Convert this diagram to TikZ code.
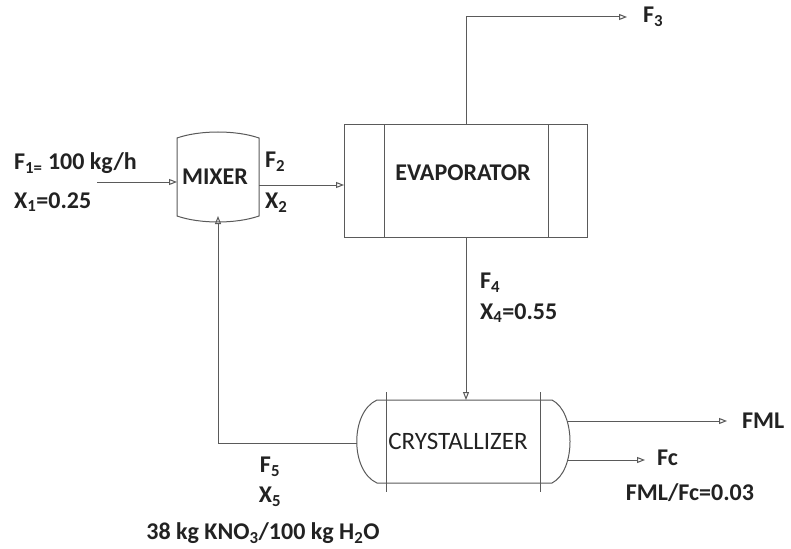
\documentclass[tikz,border=0pt]{standalone}
\usepackage{fontspec}
\setmainfont{Carlito}
\usetikzlibrary{arrows.meta}
\definecolor{ln}{HTML}{5A5A5A}
\definecolor{tx}{HTML}{222222}
\begin{document}
\begin{tikzpicture}[x=1pt,y=-1pt,
  flow/.style={draw=ln,line width=1pt},
  arr/.style={flow,-{Triangle[open,length=8pt,width=6pt]}},
  lbl/.style={text=tx,font=\fontsize{24}{28}\selectfont\bfseries,inner sep=0pt},
  lblw/.style={lbl,anchor=west},
  unit/.style={inner sep=0pt,outer sep=0pt}]
\useasboundingbox (0,0) rectangle (791,548);
\fill[white] (0,0) rectangle (791,548);

% Mixer
\node[unit,minimum width=82pt,minimum height=78pt] (mixer) at (218,177) {};
\draw[flow] (mixer.north west) .. controls (200,130) and (236,130) .. (mixer.north east)
  -- (mixer.south east) .. controls (236,224) and (200,224) .. (mixer.south west) -- cycle;
\node[lbl] (mixtxt) at (215,177) {MIXER};

% Evaporator
\node[unit,draw=ln,line width=1pt,minimum width=243pt,minimum height=112pt] (evap) at (465.5,181) {};
\draw[flow] (384,125) -- (384,237) (548,125) -- (548,237);
\node[lbl] (evtxt) at (463,173) {EVAPORATOR};

% Crystallizer
\node[unit,minimum width=175pt,minimum height=83pt] (cryst) at (464.5,441.5) {};
\draw[flow] (cryst.north west) -- (cryst.north east)
  .. controls (576,412) and (576,471) .. (cryst.south east)
  -- (cryst.south west) .. controls (350,471) and (350,412) .. (cryst.north west) -- cycle;
\draw[flow] (386,392) -- (386,492) (540,392) -- (540,492);
\node[lbl,font=\fontsize{25}{28}\selectfont] (crtxt) at (458,441) {CRYSTALLIZER};

% Coordinates
\coordinate (f1s) at (97,182);
\coordinate (f3top) at (466,17);
\coordinate (f3e) at (627,17);
\coordinate (f5c) at (218,443);
\coordinate (fmle) at (727,421);
\coordinate (fce) at (645,460);

% Streams
\draw[arr] (f1s) -- (mixer.west |- f1s);
\draw[arr] (mixer.east |- 0,185) -- (evap.west |- 0,185);
\draw[arr] (evap.north -| 466,0) -- (f3top) -- (f3e);
\draw[arr] (evap.south -| 466,0) -- (cryst.north -| 466,0);
\draw[arr] (357,443) -- (f5c) -- (mixer.south -| f5c);
\draw[arr] (567,421) -- (fmle);
\draw[arr] (567,460) -- (fce);

% Labels
\node[lblw] (l1) at (14,163) {F\textsubscript{1=} 100 kg/h};
\node[lblw] (l2) at (14,202) {X\textsubscript{1}=0.25};
\node[lblw] (l3) at (265,162) {F\textsubscript{2}};
\node[lblw] (l4) at (265,203) {X\textsubscript{2}};
\node[lblw] (l5) at (643,17) {F\textsubscript{3}};
\node[lblw] (l6) at (480,283) {F\textsubscript{4}};
\node[lblw] (l7) at (480,313) {X\textsubscript{4}=0.55};
\node[lblw] (l8) at (742,421) {FML};
\node[lblw] (l9) at (657,458) {Fc};
\node[lbl] (l10) at (690,493) {FML/Fc=0.03};
\node[lbl] (l11) at (270,467) {F\textsubscript{5}};
\node[lbl] (l12) at (270,497) {X\textsubscript{5}};
\node[lbl] (l13) at (263,533) {38 kg KNO\textsubscript{3}/100 kg H\textsubscript{2}O};
\end{tikzpicture}
\end{document}
